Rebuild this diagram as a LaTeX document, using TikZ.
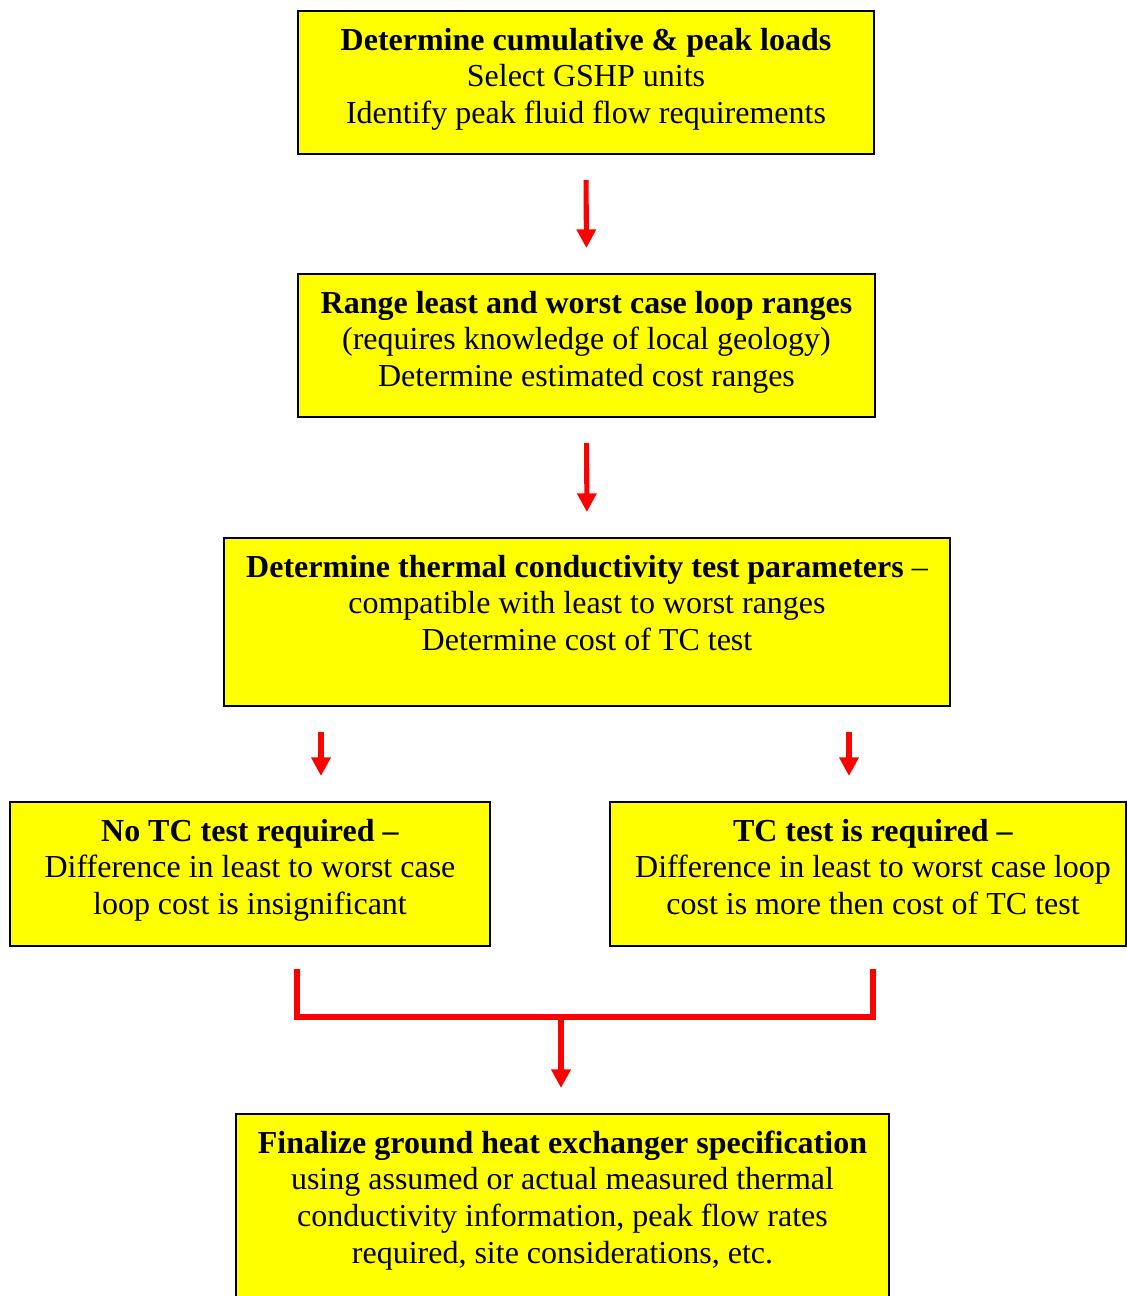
\documentclass[tikz,border=0pt]{standalone}
\usepackage{fontspec}
\setmainfont{Liberation Serif}
\usetikzlibrary{arrows.meta,calc}
\definecolor{boxyellow}{RGB}{255,255,0}
\definecolor{arrred}{RGB}{255,0,0}
\tikzset{
  stepbox/.style={draw=black, fill=boxyellow, line width=1.5pt, inner sep=0pt, anchor=north west},
  boxtext/.style={align=center, inner sep=0pt, anchor=base, font=\fontsize{24pt}{27.5pt}\selectfont},
  arr/.style={draw=arrred, line width=3.8pt, -{Triangle[width=14pt,length=14pt]}},
  redline/.style={draw=arrred, line width=3.8pt, line join=miter}
}
\begin{document}
\begin{tikzpicture}[x=0.75pt,y=-0.75pt]
\useasboundingbox (0,0) rectangle (1127,1296);
\begin{scope}
\clip (0,0) rectangle (1127,1296);
% boxes
\node[stepbox, minimum width=576*0.75pt, minimum height=143*0.75pt] (b1) at (297,10) {};
\node[stepbox, minimum width=577*0.75pt, minimum height=143*0.75pt] (b2) at (297,273) {};
\node[stepbox, minimum width=726*0.75pt, minimum height=168*0.75pt] (b3) at (223,537) {};
\node[stepbox, minimum width=480*0.75pt, minimum height=144*0.75pt] (b4) at (9,801) {};
\node[stepbox, minimum width=516*0.75pt, minimum height=144*0.75pt] (b5) at (609,801) {};
\node[stepbox, minimum width=653*0.75pt, minimum height=220*0.75pt] (b6) at (235,1113) {};
% texts (base anchor = baseline of last line)
\node[boxtext] (t1) at ($(b1.north)+(0,113.5)$) {\textbf{Determine cumulative \& peak loads}\\Select GSHP units\\Identify peak fluid flow requirements};
\node[boxtext] (t2) at ($(b2.north)+(0,113.5)$) {\textbf{Range least and worst case loop ranges}\\(requires knowledge of local geology)\\Determine estimated cost ranges};
\node[boxtext] (t3) at ($(b3.north)+(0,113.5)$) {\textbf{Determine thermal conductivity test parameters} –\\compatible with least to worst ranges\\Determine cost of TC test};
\node[boxtext] (t4) at ($(b4.north)+(0,113.5)$) {\textbf{No TC test required –}\\Difference in least to worst case\\loop cost is insignificant};
\node[boxtext] (t5) at ($(b5.north)+(5,113.5)$) {\textbf{TC test is required –}\\Difference in least to worst case loop\\cost is more then cost of TC test};
\node[boxtext] (t6) at ($(b6.north)+(0,150)$) {\textbf{Finalize ground heat exchanger specification}\\using assumed or actual measured thermal\\conductivity information, peak flow rates\\required, site considerations, etc.};
% arrows
\draw[arr, shorten <=25*0.75pt, shorten >=25*0.75pt] (b1.south) -- (b2.north);
\draw[arr, shorten <=25*0.75pt, shorten >=25*0.75pt] (b2.south) -- (b3.north);
\coordinate (xl) at (321,0);
\coordinate (xr) at (849,0);
\draw[arr, shorten <=25*0.75pt, shorten >=25*0.75pt] (b3.south -| xl) -- (b4.north -| xl);
\draw[arr, shorten <=25*0.75pt, shorten >=25*0.75pt] (b3.south -| xr) -- (b5.north -| xr);
% merge
\coordinate (ml) at (297,969);
\coordinate (mr) at (873,969);
\coordinate (mj) at (561,1017);
\draw[redline] (ml) |- (mj) -| (mr);
\draw[arr, shorten >=25*0.75pt] (mj) -- (b6.north -| mj);
\end{scope}
\end{tikzpicture}
\end{document}
